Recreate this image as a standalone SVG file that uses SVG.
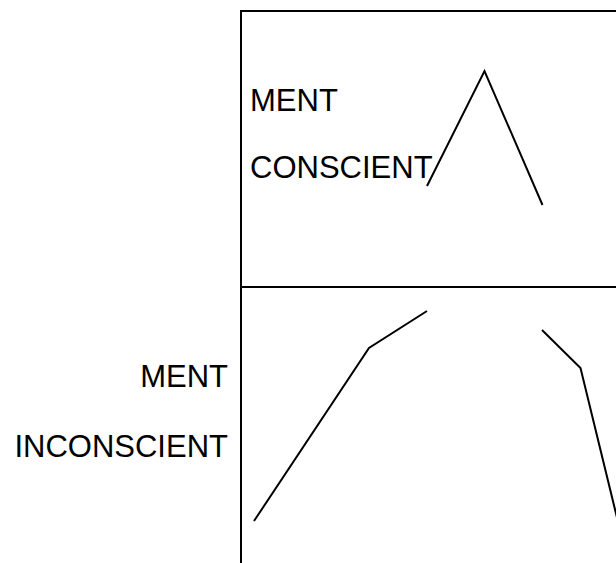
<svg xmlns="http://www.w3.org/2000/svg" width="616" height="563" viewBox="0 0 616 563">
<style>
.t{font-family:"Liberation Sans",Arial,sans-serif;font-size:31px;fill:#000}
.ln{fill:none;stroke:#000;stroke-width:2}
</style>
<rect width="616" height="563" fill="#fff"/>
<g id="frame">
<rect class="ln" x="241" y="11" width="400" height="570"/>
<line class="ln" x1="241" y1="287" x2="616" y2="287"/>
</g>
<g id="conscient">
<text class="t" x="250" y="111">MENT</text>
<text class="t" x="250" y="178">CONSCIENT</text>
</g>
<g id="inconscient">
<text class="t" x="228" y="387" text-anchor="end">MENT</text>
<text class="t" x="228" y="457" text-anchor="end">INCONSCIENT</text>
</g>
<g id="connectors">
<polyline class="ln" points="427,186 484.5,71 542.5,205"/>
<polyline class="ln" points="254,521 369,348 427,311"/>
<polyline class="ln" points="542,330 580.5,368 620,530"/>
</g>
</svg>
